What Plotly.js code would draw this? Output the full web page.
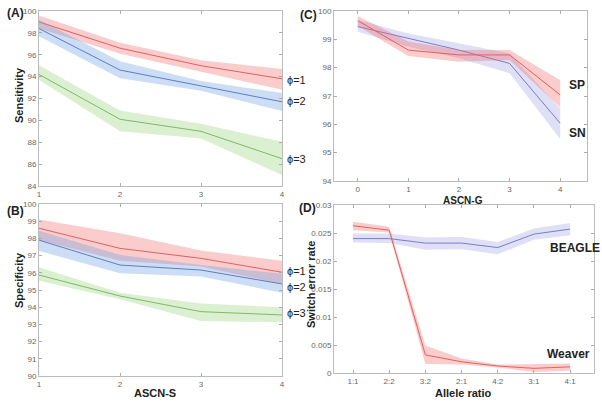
<!DOCTYPE html>
<html><head><meta charset="utf-8">
<script src="https://cdn.plot.ly/plotly-3.0.1.min.js"></script>
<style>body{margin:0;padding:0;background:#fff}#g{width:602px;height:403px}</style>
</head><body><div id="g"></div>
<script>
// Panel A: Sensitivity vs ASCN-S
const ascnS = [1, 2, 3, 4];
const sensPhi1 = [99.0, 96.6, 95.0, 93.8];
const sensPhi1Up = [99.6, 97.1, 95.5, 94.7];
const sensPhi1Lo = [98.4, 96.1, 94.45, 92.8];
const sensPhi2 = [98.4, 94.6, 93.15, 91.7];
const sensPhi2Up = [99.2, 95.4, 93.6, 92.5];
const sensPhi2Lo = [97.7, 93.85, 92.7, 90.85];
const sensPhi3 = [94.2, 90.1, 89.0, 86.5];
const sensPhi3Up = [95.05, 90.9, 89.7, 88.05];
const sensPhi3Lo = [93.7, 89.0, 88.35, 85.0];
// Panel B: Specificity vs ASCN-S
const specPhi1 = [98.59, 97.42, 96.84, 96.03];
const specPhi1Up = [99.1, 98.3, 97.3, 96.7];
const specPhi1Lo = [97.9, 96.7, 96.36, 95.35];
const specPhi2 = [97.9, 96.45, 96.16, 95.35];
const specPhi2Up = [98.45, 97.03, 96.45, 95.95];
const specPhi2Lo = [97.27, 95.97, 95.78, 94.84];
const specPhi3 = [95.87, 94.65, 93.74, 93.55];
const specPhi3Up = [96.32, 94.84, 94.22, 94.0];
const specPhi3Lo = [95.54, 94.46, 93.2, 93.12];
// Panel C: SP / SN vs ASCN-G
const ascnG = [0, 1, 2, 3, 4];
const spVals = [99.66, 98.62, 98.45, 98.45, 97.04];
const spUp = [99.82, 98.92, 98.62, 98.62, 97.56];
const spLo = [99.47, 98.41, 98.21, 98.27, 96.6];
const snVals = [99.45, 99.04, 98.62, 98.15, 96.04];
const snUp = [99.68, 99.21, 98.86, 98.5, 96.56];
const snLo = [99.27, 98.74, 98.33, 97.8, 95.48];
// Panel D: switch error rate vs allele ratio
const alleleRatios = ['1:1', '2:2', '3:2', '2:1', '4:2', '3:1', '4:1'];
const weaver = [0.0263, 0.0255, 0.00324, 0.0020, 0.00125, 0.00083, 0.0011];
const weaverUp = [0.0270, 0.0261, 0.0049, 0.0026, 0.0015, 0.0016, 0.0017];
const weaverLo = [0.0255, 0.0251, 0.0016, 0.0015, 0.0010, 0.0002, 0.0004];
const beagle = [0.0240, 0.0240, 0.0232, 0.0232, 0.0224, 0.0248, 0.0257];
const beagleUp = [0.0249, 0.0249, 0.0242, 0.0243, 0.0234, 0.0258, 0.0268];
const beagleLo = [0.0233, 0.0232, 0.0220, 0.0221, 0.0212, 0.0238, 0.0246];

const C = {
  red: {line: 'rgb(228,95,95)', fill: 'rgba(242,110,110,0.35)'},
  blue: {line: 'rgb(95,125,195)', fill: 'rgba(110,160,225,0.35)'},
  green: {line: 'rgb(125,185,105)', fill: 'rgba(145,210,115,0.33)'},
  lav: {line: 'rgb(120,125,200)', fill: 'rgba(150,150,225,0.3)'}
};

const traces = [];
function band(x, m, up, lo, col, xa, ya) {
  const xs = x.concat(x.slice().reverse());
  const ys = up.concat(lo.slice().reverse());
  traces.push({x: xs, y: ys, xaxis: xa, yaxis: ya, type: 'scatter', mode: 'lines',
    fill: 'toself', fillcolor: col.fill, line: {width: 0}, hoverinfo: 'skip', showlegend: false});
  traces.push({x: x, y: m, xaxis: xa, yaxis: ya, type: 'scatter', mode: 'lines',
    line: {color: col.line, width: 1}, showlegend: false});
}
band(ascnS, sensPhi1, sensPhi1Up, sensPhi1Lo, C.red, 'x', 'y');
band(ascnS, sensPhi2, sensPhi2Up, sensPhi2Lo, C.blue, 'x', 'y');
band(ascnS, sensPhi3, sensPhi3Up, sensPhi3Lo, C.green, 'x', 'y');
band(ascnS, specPhi1, specPhi1Up, specPhi1Lo, C.red, 'x2', 'y2');
band(ascnS, specPhi2, specPhi2Up, specPhi2Lo, C.blue, 'x2', 'y2');
band(ascnS, specPhi3, specPhi3Up, specPhi3Lo, C.green, 'x2', 'y2');
band(ascnG, snVals, snUp, snLo, C.lav, 'x3', 'y3');
band(ascnG, spVals, spUp, spLo, C.red, 'x3', 'y3');
band(alleleRatios, beagle, beagleUp, beagleLo, C.lav, 'x4', 'y4');
band(alleleRatios, weaver, weaverUp, weaverLo, C.red, 'x4', 'y4');

const W = 602, H = 403;
const px = (a, b) => [a / W, b / W];
const py = (top, bot) => [(H - bot) / H, (H - top) / H];
const tickFont = {family: 'Liberation Sans, Arial', size: 8, color: '#666'};
function ax(extra) {
  return Object.assign({showgrid: false, zeroline: false, showline: true, linecolor: '#bbb', linewidth: 1,
    mirror: 'ticks', ticks: 'inside', ticklen: 3, tickcolor: '#aaa', tickfont: tickFont, fixedrange: true}, extra);
}
const layout = {
  width: W, height: H, margin: {l: 0, r: 0, t: 0, b: 0}, paper_bgcolor: '#fff', plot_bgcolor: '#fff',
  showlegend: false,
  xaxis: ax({domain: px(39, 282), range: [1, 4], tickvals: ascnS, anchor: 'y'}),
  yaxis: ax({domain: py(11, 186), range: [84, 100], dtick: 2, anchor: 'x'}),
  xaxis2: ax({domain: px(39, 282), range: [1, 4], tickvals: ascnS, anchor: 'y2'}),
  yaxis2: ax({domain: py(204, 376), range: [90, 100], dtick: 1, anchor: 'x2'}),
  xaxis3: ax({domain: px(334, 587), range: [-0.47, 4.53], tickvals: ascnG, anchor: 'y3'}),
  yaxis3: ax({domain: py(11, 181), range: [94, 100], dtick: 1, anchor: 'x3'}),
  xaxis4: ax({domain: px(334, 594), type: 'category', range: [-0.525, 6.66], anchor: 'y4'}),
  yaxis4: ax({domain: py(205, 373), range: [0, 0.03], dtick: 0.005, anchor: 'x4'}),
  annotations: []
};
function txt(x, y, t, size, bold, extra) {
  layout.annotations.push(Object.assign({xref: 'paper', yref: 'paper', x: x / W, y: 1 - y / H, text: bold ? '<b>' + t + '</b>' : t,
    showarrow: false, xanchor: 'center', yanchor: 'middle',
    font: {family: 'Liberation Sans, Arial', size: size, color: '#222'}}, extra || {}));
}
// panel letters
txt(15, 13, '(A)', 12, true);
txt(15, 211, '(B)', 12, true);
txt(308, 15, '(C)', 12, true);
txt(307, 208, '(D)', 12, true);
// axis titles
txt(19, 95, 'Sensitivity', 11, true, {textangle: -90});
txt(19, 280, 'Specificity', 11, true, {textangle: -90});
txt(155, 393, 'ASCN-S', 11, true);
txt(463, 200, 'ASCN-G', 10, true);
txt(463, 393, 'Allele ratio', 11, true);
txt(311, 285, 'Switch error rate', 11, true, {textangle: -90});
// series labels
txt(285, 80, 'ϕ=1', 11, false, {xanchor: 'left'});
txt(285, 101, 'ϕ=2', 11, false, {xanchor: 'left'});
txt(285, 159, 'ϕ=3', 11, false, {xanchor: 'left'});
txt(285, 271, 'ϕ=1', 11, false, {xanchor: 'left'});
txt(285, 287, 'ϕ=2', 11, false, {xanchor: 'left'});
txt(285, 313, 'ϕ=3', 11, false, {xanchor: 'left'});
txt(567, 85, 'SP', 12, true, {xanchor: 'left'});
txt(567, 133, 'SN', 12, true, {xanchor: 'left'});
txt(548, 248, 'BEAGLE', 12, true, {xanchor: 'left'});
txt(545, 354, 'Weaver', 12, true, {xanchor: 'left'});

Plotly.newPlot('g', traces, layout, {staticPlot: true, displayModeBar: false});
</script></body></html>
